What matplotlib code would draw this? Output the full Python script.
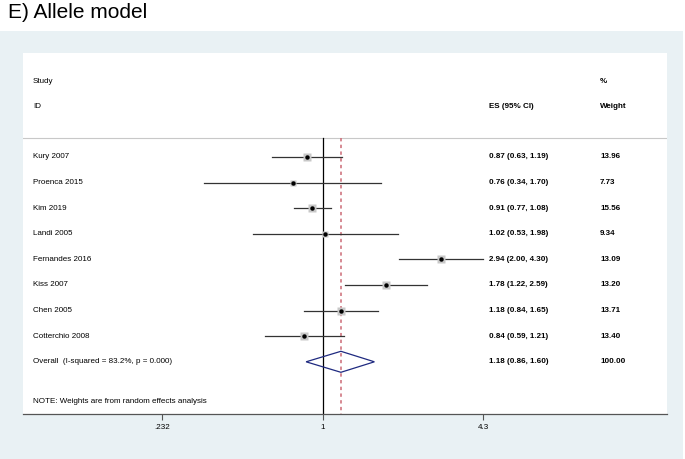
import numpy as np
import matplotlib.pyplot as plt
from matplotlib.patches import Rectangle, Polygon

studies = ['Kury 2007', 'Proenca 2015', 'Kim 2019', 'Landi 2005',
           'Fernandes 2016', 'Kiss 2007', 'Chen 2005', 'Cotterchio 2008']
es = [0.87, 0.76, 0.91, 1.02, 2.94, 1.78, 1.18, 0.84]
lo = [0.63, 0.34, 0.77, 0.53, 2.00, 1.22, 0.84, 0.59]
hi = [1.19, 1.70, 1.08, 1.98, 4.30, 2.59, 1.65, 1.21]
weights = [13.96, 7.73, 15.56, 9.34, 13.09, 13.20, 13.71, 13.40]
overall_es, overall_lo, overall_hi = 1.18, 0.86, 1.60
overall_label = 'Overall  (I-squared = 83.2%, p = 0.000)'
note = 'NOTE: Weights are from random effects analysis'
xticks = [0.232, 1, 4.3]
xticklabels = ['.232', '1', '4.3']

W, H = 685, 459
fig = plt.figure(figsize=(W / 100, H / 100), dpi=100)
fig.patch.set_facecolor('white')

# light panel behind the graph
fig.patches.append(Rectangle((0, 0), 683 / W, (H - 31) / H, transform=fig.transFigure,
                             facecolor='#e9f1f4', edgecolor='none', zorder=0))
fig.text(8 / W, 1 - 12 / H, 'E) Allele model', fontsize=15, va='center', ha='left',
         family='Liberation Sans')

# inner white plot region: x 23..667, y 53..414 (pixels)
ax = fig.add_axes([23 / W, 1 - 414 / H, (667 - 23) / W, (414 - 53) / H])
ax.set_facecolor('white')
ax.set_zorder(1)

# pixel position of x=1 is 322.7, 110 px per ln unit
x_left = np.exp((23 - 322.7) / 110)
x_right = np.exp((667 - 322.7) / 110)
ax.set_xscale('log')
ax.set_xlim(x_left, x_right)

# rows: pixel = 157 + 25.6 * r
def r_of(py):
    return (py - 157) / 25.6

ax.set_ylim(r_of(414), r_of(53))

fs = 5.8
fam = 'Liberation Sans'
col_es = (489 - 23) / (667 - 23)
col_w = (600 - 23) / (667 - 23)
col_study = (33 - 23) / (667 - 23)
ytr = ax.get_yaxis_transform()

# header
ax.text(col_study, r_of(82), 'Study', transform=ytr, fontsize=fs, va='center', family=fam)
ax.text(col_study, r_of(107), 'ID', transform=ytr, fontsize=fs, va='center', family=fam)
ax.text(col_es, r_of(107), 'ES (95% CI)', transform=ytr, fontsize=fs, va='center',
        family=fam, fontweight='bold')
ax.text(col_w, r_of(82), '%', transform=ytr, fontsize=fs, va='center', family=fam,
        fontweight='bold')
ax.text(col_w, r_of(107), 'Weight', transform=ytr, fontsize=fs, va='center', family=fam,
        fontweight='bold')
ax.axhline(r_of(138), color='#c8c8c8', lw=0.8)

# reference lines
ax.plot([1, 1], [r_of(138), r_of(414)], color='black', lw=0.9, zorder=2)
ax.plot([overall_es, overall_es], [r_of(138), r_of(414)], color='#cc6a75', lw=1.1,
        ls=(0, (2.2, 2.2)), zorder=2)

for i, name in enumerate(studies):
    ax.plot([lo[i], hi[i]], [i, i], color='#333333', lw=0.9, zorder=3)
    side = np.sqrt(weights[i]) * 1.6
    ax.plot(es[i], i, marker='s', markersize=side, color='#c8c8c8', mec='none', zorder=3)
    ax.plot(es[i], i, marker='o', markersize=3.2, color='black', mew=0, zorder=4)
    ax.text(col_study, i, name, transform=ytr, fontsize=fs, va='center', family=fam)
    ax.text(col_es, i, '%.2f (%.2f, %.2f)' % (es[i], lo[i], hi[i]), transform=ytr,
            fontsize=fs, va='center', family=fam, fontweight='bold')
    ax.text(col_w, i, '%.2f' % weights[i], transform=ytr, fontsize=fs, va='center',
            family=fam, fontweight='bold')

# overall diamond
ro = len(studies)
dh = 10.5 / 25.6
diamond = Polygon([[overall_lo, ro], [overall_es, ro - dh], [overall_hi, ro],
                   [overall_es, ro + dh]], closed=True, fill=False,
                  edgecolor='#1f2a80', lw=0.9, zorder=4)
ax.add_patch(diamond)
ax.text(col_study, ro, overall_label, transform=ytr, fontsize=fs, va='center', family=fam)
ax.text(col_es, ro, '%.2f (%.2f, %.2f)' % (overall_es, overall_lo, overall_hi),
        transform=ytr, fontsize=fs, va='center', family=fam, fontweight='bold')
ax.text(col_w, ro, '100.00', transform=ytr, fontsize=fs, va='center', family=fam,
        fontweight='bold')

ax.text(col_study, r_of(402), note, transform=ytr, fontsize=fs, va='center', family=fam)

# axes styling
for s in ['top', 'right', 'left']:
    ax.spines[s].set_visible(False)
ax.spines['bottom'].set_color('#555555')
ax.spines['bottom'].set_linewidth(0.9)
ax.set_yticks([])
ax.set_xticks(xticks)
ax.set_xticklabels(xticklabels, fontsize=fs, family=fam)
ax.xaxis.set_minor_locator(plt.NullLocator())
ax.tick_params(axis='x', direction='out', length=4, width=0.8, color='#555555', pad=3)

fig.savefig('out.png', dpi=100)
